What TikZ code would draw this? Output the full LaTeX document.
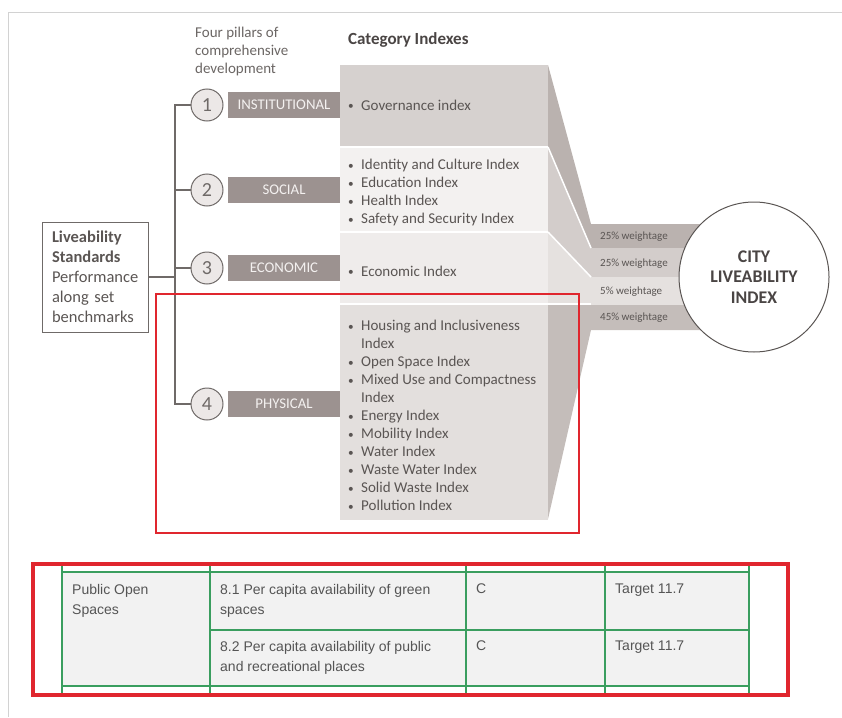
\documentclass[tikz,border=0pt]{standalone}
\usepackage{fontspec}
\setmainfont{Carlito}
\newfontfamily\tabfont{Liberation Sans}
\usetikzlibrary{positioning}
\definecolor{txtgray}{HTML}{5A5553}
\definecolor{headgray}{HTML}{4A4544}
\definecolor{pillargray}{HTML}{9C9290}
\definecolor{pillartext}{HTML}{F4F1F0}
\definecolor{numfill}{HTML}{ECE8E7}
\definecolor{numline}{HTML}{6F6A68}
\definecolor{govpanel}{HTML}{D6D1CF}
\definecolor{socpanel}{HTML}{F3F1F0}
\definecolor{ecopanel}{HTML}{EFECEB}
\definecolor{phypanel}{HTML}{E3DFDD}
\definecolor{govfun}{HTML}{BAB2AF}
\definecolor{socfun}{HTML}{D3CDCB}
\definecolor{ecofun}{HTML}{E5E1DF}
\definecolor{phyfun}{HTML}{C4BDBA}
\definecolor{redline}{HTML}{E0262E}
\definecolor{gridgreen}{HTML}{3A9E5F}
\definecolor{cellfill}{HTML}{F2F2F2}
\definecolor{celltext}{HTML}{555555}
\definecolor{framegray}{HTML}{D2D2D2}
\newcommand{\bul}{\makebox[13pt][l]{\raisebox{0.05ex}{\scalebox{0.75}{\textbullet}}}}
\newcommand{\cont}{\hspace*{13pt}}

\begin{document}
\begin{tikzpicture}[x=1pt,y=-1pt,
	pillar/.style={fill=pillargray, text=pillartext, minimum width=112pt, minimum height=26pt, inner sep=0pt, font=\fontsize{14.8}{16}\selectfont},
	num/.style={circle, draw=numline, fill=numfill, line width=1pt, minimum size=32pt, inner sep=0pt, text=numline, font=\fontsize{20}{22}\selectfont},
	catlist/.style={anchor=north west, align=left, inner sep=0pt, text=txtgray, font=\fontsize{15}{18}\selectfont},
	wlabel/.style={anchor=west, inner sep=0pt, text=txtgray, font=\fontsize{11}{13}\selectfont},
	tree/.style={draw=numline, line width=1.2pt},
	sep/.style={draw=white, line width=1.5pt},
	redbox/.style={draw=redline, line width=2.5pt},
	grid/.style={draw=gridgreen, line width=1.2pt},
	cell/.style={anchor=north west, align=left, inner sep=0pt, text=celltext, font=\tabfont\fontsize{14}{20}\selectfont}]
			%%%%% START %%%%%
			\useasboundingbox (0,0) rectangle (842,717);
			
			\draw[framegray, line width=1pt] (8,717) -- (8,13) -- (842,13);
			
			% category panels
			\fill[govpanel] (340,65) rectangle (548,146);
			\fill[socpanel] (340,148) rectangle (548,231);
			\fill[ecopanel] (340,233) rectangle (548,303);
			\fill[phypanel] (340,305) rectangle (548,520);
			
			% funnels into the weightage bands
			\fill[govfun] (548,65) -- (591,224) -- (720,224) -- (720,248) -- (591,248) -- (548,147) -- cycle;
			\fill[socfun] (548,147) -- (591,248) -- (720,248) -- (720,277) -- (591,277) -- (548,232) -- cycle;
			\fill[ecofun] (548,232) -- (591,277) -- (720,277) -- (720,305) -- (591,305) -- (548,304) -- cycle;
			\fill[phyfun] (548,304) -- (591,305) -- (720,305) -- (720,330) -- (591,330) -- (548,519) -- cycle;
			\draw[sep] (548,147) -- (591,248);
			\draw[sep] (548,232) -- (591,277);
			\draw[sep] (340,304) -- (591,304);
			
			\node[wlabel] (w1) at (600,237) {25\% weightage};
			\node[wlabel] (w2) at (600,264) {25\% weightage};
			\node[wlabel] (w3) at (600,292) {5\% weightage};
			\node[wlabel] (w4) at (600,318) {45\% weightage};
			
			\node[circle, draw=txtgray, fill=white, line width=1pt, minimum size=150pt, align=center, text=headgray,
				font=\bfseries\fontsize{17.8}{20.5}\selectfont] (city) at (754,277) {CITY\\LIVEABILITY\\INDEX};
			
			% headings
			\node[catlist, text=txtgray!90] (pillars) at (195,27) {Four pillars of\\comprehensive\\development};
			\node[anchor=west, inner sep=0pt, text=headgray, font=\bfseries\fontsize{17}{20}\selectfont] (cathead) at (348,40) {Category Indexes};
			
			% pillars
			\node[num] (c1) at (207,105) {1};
			\node[num] (c2) at (207,190) {2};
			\node[num] (c3) at (207,268) {3};
			\node[num] (c4) at (207,404) {4};
			\node[pillar] (p1) at (284,105) {INSTITUTIONAL};
			\node[pillar] (p2) at (284,190) {SOCIAL};
			\node[pillar] (p3) at (284,268) {ECONOMIC};
			\node[pillar] (p4) at (284,404) {PHYSICAL};
			
			\node[draw=numline, line width=1pt, minimum width=106pt, minimum height=110pt, text width=86pt, inner xsep=10pt,
				align=left, text=txtgray, font=\fontsize{16.5}{20}\selectfont] (lsb) at (95,277)
				{\textbf{Liveability}\\\textbf{Standards}\\Performance\\along set\\benchmarks};
			
			\coordinate (trunk) at (175,0);
			\draw[tree] (c1.west) -- (c1.west -| trunk) -- (c4.west -| trunk) -- (c4.west);
			\draw[tree] (c2.west) -- (c2.west -| trunk);
			\draw[tree] (c3.west) -- (c3.west -| trunk);
			\draw[tree] (lsb.east) -- (lsb.east -| trunk);
			
			% index lists
			\node[catlist, anchor=west] (gov) at (348,105) {\bul Governance index};
			\node[catlist] (soc) at (348,159) {\bul Identity and Culture Index\\\bul Education Index\\\bul Health Index\\\bul Safety and Security Index};
			\node[catlist, anchor=west] (eco) at (348,271) {\bul Economic Index};
			\node[catlist] (phy) at (348,320) {\bul Housing and Inclusiveness\\\cont Index\\\bul Open Space Index\\\bul Mixed Use and Compactness\\\cont Index\\\bul Energy Index\\\bul Mobility Index\\\bul Water Index\\\bul Waste Water Index\\\bul Solid Waste Index\\\bul Pollution Index};
			
			\draw[redbox] (156,294) rectangle (579,533);
			
			% table excerpt
			\fill[cellfill] (62,572) rectangle (749,686);
			\draw[grid] (62,572) -- (749,572);
			\draw[grid] (210,630) -- (749,630);
			\draw[grid] (62,686) -- (749,686);
			\foreach \gx in {62,210,466,605,749}
				\draw[grid] (\gx,566) -- (\gx,693);
			
			\node[cell] (t1) at (72,584) {Public Open\\Spaces};
			\node[cell] (t2) at (220,584) {8.1 Per capita availability of green\\spaces};
			\node[cell] (t3) at (476,584) {C};
			\node[cell] (t4) at (615,584) {Target 11.7};
			\node[cell] (t5) at (220,641) {8.2 Per capita availability of public\\and recreational places};
			\node[cell] (t6) at (476,641) {C};
			\node[cell] (t7) at (615,641) {Target 11.7};
			
			\draw[redbox, line width=4pt] (33,564) rectangle (788,695);
			
			%%%%% END %%%%%
\end{tikzpicture}
\end{document}
